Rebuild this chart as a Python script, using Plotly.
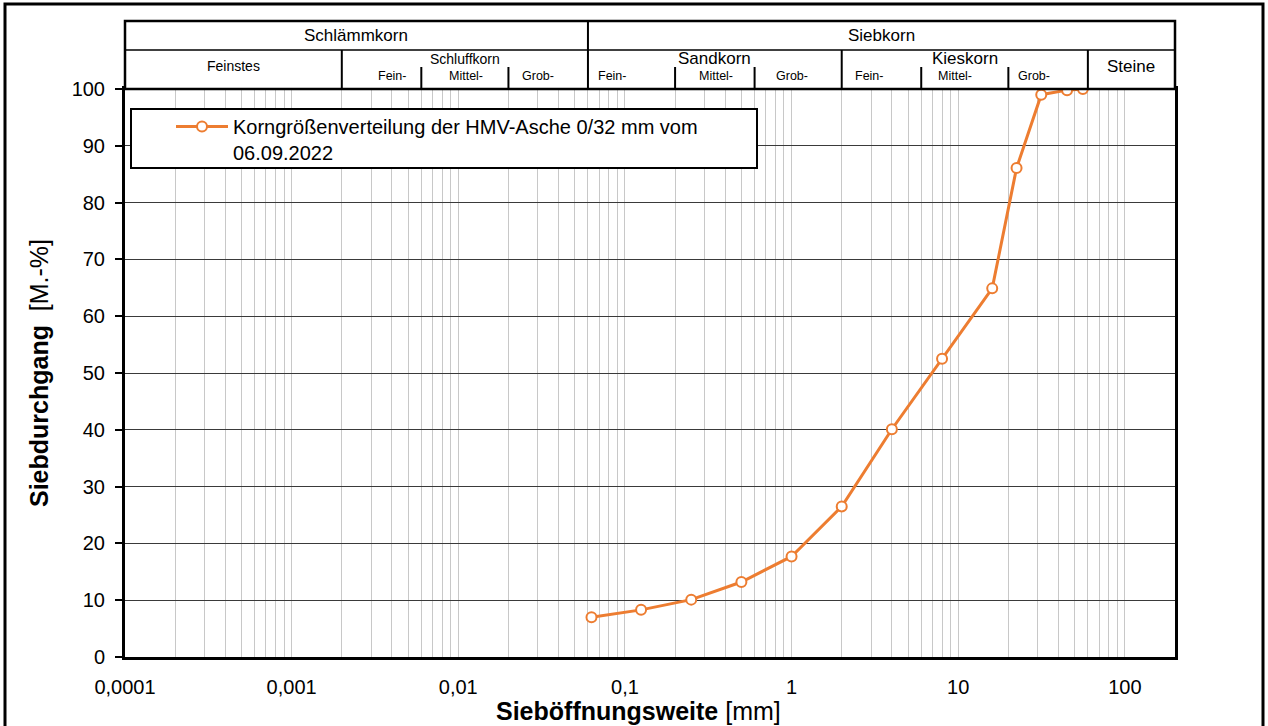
import math
import plotly.graph_objects as go

# ---------------- data ----------------
sieve_mm = [0.063, 0.125, 0.25, 0.5, 1, 2, 4, 8, 16, 22.4, 31.5, 45, 56]
passing_pct = [7.0, 8.3, 10.1, 13.2, 17.7, 26.5, 40.1, 52.5, 64.9, 86.1, 99.0, 99.8, 100.0]
series_name = "Korngrößenverteilung der HMV-Asche 0/32 mm vom<br>06.09.2022"

decade_vals = [0.0001, 0.001, 0.01, 0.1, 1, 10, 100]
decade_labels = ["0,0001", "0,001", "0,01", "0,1", "1", "10", "100"]
y_ticks = list(range(0, 101, 10))

# soil classification header (DIN 4022)
row1_groups = [("Schlämmkorn", 0.0001, 0.06), ("Siebkorn", 0.06, 200)]
main_bounds = [0.002, 2, 60]
sub_bounds = [0.006, 0.02, 0.2, 0.6, 6, 20]
group_labels = [("Feinstes", 0.0001, 0.002), ("Schluffkorn", 0.002, 0.06),
                ("Sandkorn", 0.06, 2), ("Kieskorn", 2, 60), ("Steine", 60, 200)]
sub_labels = [("Fein-", 0.0040), ("Mittel-", 0.0111), ("Grob-", 0.0301),
              ("Fein-", 0.0837), ("Mittel-", 0.352), ("Grob-", 1.0),
              ("Fein-", 2.93), ("Mittel-", 9.6), ("Grob-", 28.6)]

# ---------------- layout constants ----------------
W, H = 1268, 726
ML, MR, MT, MB = 125, 93, 89, 69
PW = W - ML - MR
PH = H - MT - MB
XMIN, XMAX = -4, math.log10(200)
FONT = "Liberation Sans, Arial, sans-serif"
ORANGE = "#ED7D31"


def xp(v):
    return (math.log10(v) - XMIN) / (XMAX - XMIN)


def xpix(pix):
    return (pix - ML) / PW


def yp(pix):
    # pixel row (from top of figure) -> paper y
    return (H - MB - pix) / PH


minor_vals = []
for e in range(-4, 3):
    for m in range(1, 10):
        v = m * 10 ** e
        if v < 200:
            minor_vals.append(v)
tick_text = [decade_labels[decade_vals.index(v)] if v in decade_vals else "" for v in minor_vals]
minor_vals = [round(v, 6) for v in minor_vals]

fig = go.Figure()
fig.add_trace(go.Scatter(
    x=sieve_mm, y=passing_pct, mode="lines+markers", name=series_name,
    line=dict(color=ORANGE, width=3),
    marker=dict(symbol="circle", size=10, color="white", line=dict(color=ORANGE, width=2)),
    cliponaxis=False,
))

shapes = []
annos = []
top_y, mid_y, sub_y = yp(21), yp(50), yp(67)
# header frame
shapes.append(dict(type="rect", xref="paper", yref="paper", x0=0, x1=1, y0=1, y1=top_y,
                   line=dict(color="black", width=2.5), fillcolor="white", layer="above"))
shapes.append(dict(type="line", xref="paper", yref="paper", x0=0, x1=1, y0=mid_y, y1=mid_y,
                   line=dict(color="black", width=1.5)))
shapes.append(dict(type="line", xref="paper", yref="paper", x0=xp(0.06), x1=xp(0.06), y0=1, y1=top_y,
                   line=dict(color="black", width=2)))
for b in main_bounds:
    shapes.append(dict(type="line", xref="paper", yref="paper", x0=xp(b), x1=xp(b), y0=1, y1=mid_y,
                       line=dict(color="black", width=2)))
for b in sub_bounds:
    shapes.append(dict(type="line", xref="paper", yref="paper", x0=xp(b), x1=xp(b), y0=1, y1=sub_y,
                       line=dict(color="black", width=2)))

common = dict(xref="paper", yref="paper", showarrow=False, xanchor="center", yanchor="middle")
for txt, a, b in row1_groups:
    annos.append(dict(text=txt, x=(xp(a) + xp(b)) / 2, y=yp(35),
                      font=dict(size=17, family=FONT, color="black"), **common))
for txt, a, b in group_labels:
    if txt == "Feinstes":
        yy, fs = yp(66), 14
    elif txt == "Steine":
        yy, fs = yp(67), 17
    elif txt == "Schluffkorn":
        yy, fs = yp(59), 14
    else:
        yy, fs = yp(59), 17
    annos.append(dict(text=txt, x=(xp(a) + xp(b)) / 2, y=yy,
                      font=dict(size=fs, family=FONT, color="black"), **common))
for txt, v in sub_labels:
    annos.append(dict(text=txt, x=xp(v), y=yp(76),
                      font=dict(size=12.5, family=FONT, color="black"), **common))

# x-axis title (centred as in the original, slightly left of the plot centre)
annos.append(dict(text="<b>Sieböffnungsweite</b> [mm]", x=xpix(638), y=yp(711),
                  font=dict(size=25, family=FONT, color="black"), **common))

# legend box
shapes.append(dict(type="rect", xref="paper", yref="paper",
                   x0=xpix(131), x1=xpix(757), y0=yp(168), y1=yp(109),
                   line=dict(color="black", width=2), fillcolor="white", layer="above"))
# outer frame
shapes.append(dict(type="rect", xref="paper", yref="paper",
                   x0=xpix(5), x1=xpix(1263), y0=yp(740), y1=yp(4),
                   line=dict(color="black", width=3)))

fig.update_layout(
    width=W, height=H,
    margin=dict(l=ML, r=MR, t=MT, b=MB, pad=0),
    paper_bgcolor="white", plot_bgcolor="white",
    font=dict(family=FONT, color="black"),
    shapes=shapes, annotations=annos,
    showlegend=True,
    legend=dict(x=xpix(171), y=yp(107), xanchor="left", yanchor="top",
                bgcolor="rgba(0,0,0,0)", borderwidth=0, itemwidth=52, valign="top",
                font=dict(size=20, family=FONT, color="black"), tracegroupgap=0),
    xaxis=dict(type="log", range=[XMIN, XMAX], tickmode="array", tickvals=minor_vals,
               ticktext=tick_text, showgrid=True, gridcolor="#c8c8c8", gridwidth=1.2,
               ticks="", showline=True, linecolor="black", linewidth=3, mirror=True,
               tickfont=dict(size=20, family=FONT), ticklabelstandoff=10,
               zeroline=False),
    yaxis=dict(range=[0, 100], tickmode="array", tickvals=y_ticks, showgrid=True,
               gridcolor="#3a3a3a", gridwidth=1.2, ticks="outside", ticklen=7, tickwidth=1.5,
               tickcolor="black", showline=True, linecolor="black", linewidth=3, mirror=True,
               tickfont=dict(size=20, family=FONT), ticklabelstandoff=6,
               title=dict(text="<b>Siebdurchgang</b>  [M.-%]", font=dict(size=25, family=FONT),
                          standoff=16),
               zeroline=False),
)

fig.write_html("out.html", config={"displayModeBar": False},
               post_script="document.body.style.margin='0';")
